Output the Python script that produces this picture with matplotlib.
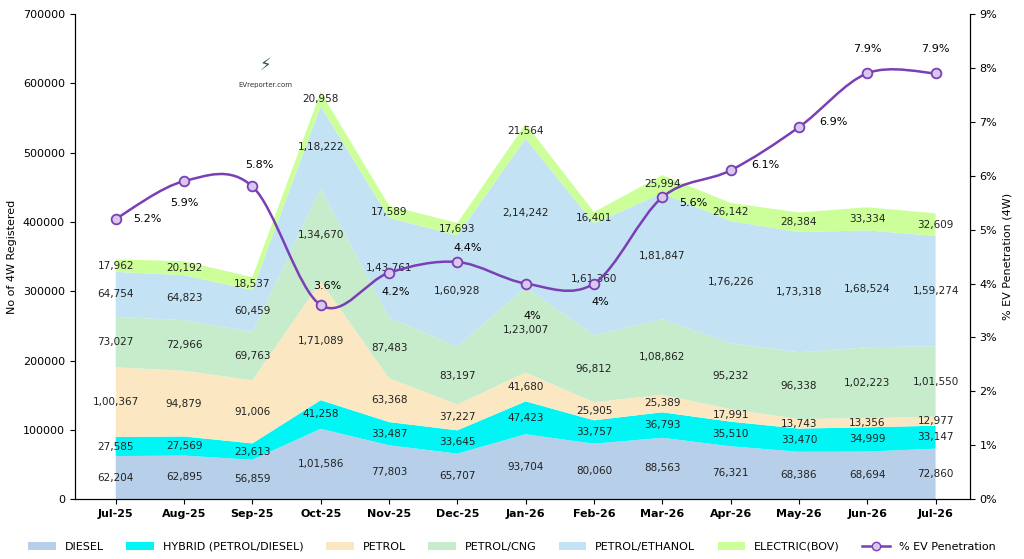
import matplotlib
matplotlib.use("Agg")
import matplotlib.pyplot as plt
import numpy as np
from matplotlib.path import Path
from matplotlib.patches import PathPatch
from matplotlib.lines import Line2D

months = ["Jul-25","Aug-25","Sep-25","Oct-25","Nov-25","Dec-25","Jan-26","Feb-26","Mar-26","Apr-26","May-26","Jun-26","Jul-26"]
diesel = [62204,62895,56859,101586,77803,65707,93704,80060,88563,76321,68386,68694,72860]
hybrid = [27585,27569,23613,41258,33487,33645,47423,33757,36793,35510,33470,34999,33147]
petrol = [100367,94879,91006,171089,63368,37227,41680,25905,25389,17991,13743,13356,12977]
cng = [73027,72966,69763,134670,87483,83197,123007,96812,108862,95232,96338,102223,101550]
ethanol = [64754,64823,60459,118222,143761,160928,214242,161360,181847,176226,173318,168524,159274]
electric = [17962,20192,18537,20958,17589,17693,21564,16401,25994,26142,28384,33334,32609]
ev_pct = [5.2,5.9,5.8,3.6,4.2,4.4,4.0,4.0,5.6,6.1,6.9,7.9,7.9]

series = [("DIESEL", diesel, "#b7cfe9"), ("HYBRID (PETROL/DIESEL)", hybrid, "#00f5f5"),
          ("PETROL", petrol, "#fbe8c3"), ("PETROL/CNG", cng, "#c6eccb"),
          ("PETROL/ETHANOL", ethanol, "#c3e2f4"), ("ELECTRIC(BOV)", electric, "#ccff99")]

def indian(n):
    s = str(int(n))
    if len(s) <= 3: return s
    head, tail = s[:-3], s[-3:]
    parts = []
    while len(head) > 2:
        parts.insert(0, head[-2:]); head = head[:-2]
    if head: parts.insert(0, head)
    return ",".join(parts + [tail])

fig = plt.figure(figsize=(10.24, 5.59), dpi=100)
ax = fig.add_axes([0.073, 0.107, 0.874, 0.868])
x = np.arange(len(months))
ax.stackplot(x, *[s[1] for s in series], colors=[s[2] for s in series], labels=[s[0] for s in series])
base = np.zeros(len(x))
for name, vals, c in series:
    v = np.array(vals, float)
    for i in range(len(x)):
        ax.text(x[i], base[i] + v[i] / 2, indian(v[i]), ha="center", va="center", fontsize=7.5, color="#222")
    base += v
ax.set_xlim(-0.6, 12.5)
ax.set_ylim(0, 700000)
ax.set_yticks(range(0, 700001, 100000))
ax.set_xticks(x)
ax.set_xticklabels(months, fontsize=8, fontweight="bold")
ax.tick_params(axis="y", labelsize=8)
ax.set_ylabel("No of 4W Registered", fontsize=8)
for s in ["top"]:
    ax.spines[s].set_visible(False)

ax2 = ax.twinx()
ax2.set_ylim(0, 9)
ax2.set_yticks(range(0, 10))
ax2.set_yticklabels([f"{i}%" for i in range(10)], fontsize=8)
ax2.set_ylabel("% EV Penetration (4W)", fontsize=8)
ax2.spines["top"].set_visible(False)

# smooth curve (Catmull-Rom -> Bezier)
P = np.column_stack([x, ev_pct]).astype(float)
verts = [tuple(P[0])]; codes = [Path.MOVETO]
for i in range(len(P) - 1):
    p0 = P[i - 1] if i > 0 else P[i]
    p3 = P[i + 2] if i + 2 < len(P) else P[i + 1]
    c1 = P[i] + (P[i + 1] - p0) / 6
    c2 = P[i + 1] - (p3 - P[i]) / 6
    verts += [tuple(c1), tuple(c2), tuple(P[i + 1])]
    codes += [Path.CURVE4] * 3
ax2.add_patch(PathPatch(Path(verts, codes), fill=False, edgecolor="#7a3fb5", lw=1.8, zorder=5))
ax2.plot(x, ev_pct, ls="none", marker="o", ms=7, mfc="#d9c8ee", mec="#7a3fb5", mew=1.3, zorder=6)
offs = [(0.25,0),(0,-0.4),(0.1,0.4),(0.1,0.35),(0.1,-0.35),(0.15,0.25),(0.1,-0.6),(0.1,-0.35),(0.25,-0.1),(0.3,0.1),(0.3,0.1),(0,0.45),(0,0.45)]
for i, v in enumerate(ev_pct):
    lab = (f"{v:g}%")
    ax2.text(x[i] + offs[i][0], v + offs[i][1], lab, fontsize=8, ha="left" if offs[i][0] > 0.2 else "center", va="center", zorder=7)

fig.text(0.259, 0.845, "EVreporter.com", fontsize=5, ha="center", color="#333")
fig.text(0.259, 0.875, "\u26a1", fontsize=12, ha="center", color="#2e5c3a")

h1, l1 = ax.get_legend_handles_labels()
h1.append(Line2D([], [], color="#7a3fb5", marker="o", mfc="#d9c8ee", lw=1.8))
l1.append("% EV Penetration")
fig.legend(h1, l1, loc="lower center", ncol=7, fontsize=8, frameon=False, bbox_to_anchor=(0.5, -0.005), handlelength=2.5)
fig.savefig("out.png", dpi=100)
